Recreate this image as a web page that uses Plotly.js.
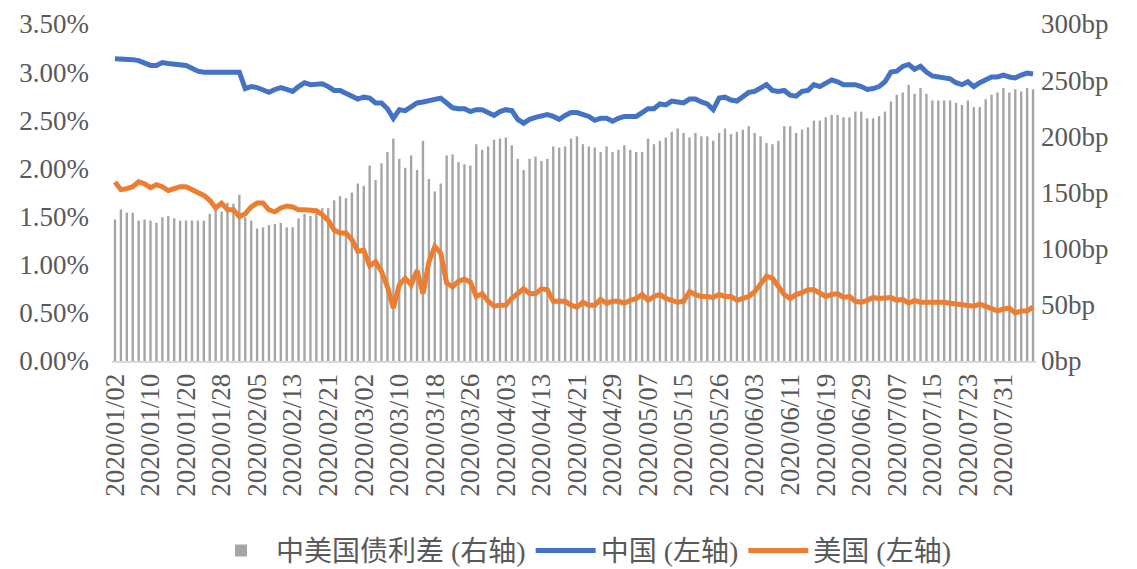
<!DOCTYPE html>
<html>
<head>
<meta charset="utf-8">
<script src="https://cdn.plot.ly/plotly-3.0.1.min.js"></script>
<style>html,body{margin:0;padding:0;background:#fff;}#chart{width:1137px;height:569px;}</style>
</head>
<body>
<div id="chart"></div>
<script>
const dates = [
"2020/01/02","2020/01/03","2020/01/06","2020/01/07","2020/01/08","2020/01/09","2020/01/10","2020/01/13","2020/01/14","2020/01/15","2020/01/16","2020/01/17","2020/01/20","2020/01/21","2020/01/22","2020/01/23","2020/01/24","2020/01/27","2020/01/28","2020/01/29","2020/01/30","2020/01/31",
"2020/02/03","2020/02/04","2020/02/05","2020/02/06","2020/02/07","2020/02/10","2020/02/11","2020/02/12","2020/02/13","2020/02/14","2020/02/17","2020/02/18","2020/02/19","2020/02/20","2020/02/21","2020/02/24","2020/02/25","2020/02/26","2020/02/27","2020/02/28",
"2020/03/02","2020/03/03","2020/03/04","2020/03/05","2020/03/06","2020/03/09","2020/03/10","2020/03/11","2020/03/12","2020/03/13","2020/03/16","2020/03/17","2020/03/18","2020/03/19","2020/03/20","2020/03/23","2020/03/24","2020/03/25","2020/03/26","2020/03/27","2020/03/30","2020/03/31",
"2020/04/01","2020/04/02","2020/04/03","2020/04/06","2020/04/07","2020/04/08","2020/04/09","2020/04/10","2020/04/13","2020/04/14","2020/04/15","2020/04/16","2020/04/17","2020/04/20","2020/04/21","2020/04/22","2020/04/23","2020/04/24","2020/04/27","2020/04/28","2020/04/29","2020/04/30",
"2020/05/01","2020/05/04","2020/05/05","2020/05/06","2020/05/07","2020/05/08","2020/05/11","2020/05/12","2020/05/13","2020/05/14","2020/05/15","2020/05/18","2020/05/19","2020/05/20","2020/05/21","2020/05/22","2020/05/26","2020/05/27","2020/05/28","2020/05/29",
"2020/06/01","2020/06/02","2020/06/03","2020/06/04","2020/06/05","2020/06/08","2020/06/09","2020/06/10","2020/06/11","2020/06/12","2020/06/15","2020/06/16","2020/06/17","2020/06/18","2020/06/19","2020/06/22","2020/06/23","2020/06/24","2020/06/25","2020/06/26","2020/06/29","2020/06/30",
"2020/07/01","2020/07/02","2020/07/03","2020/07/06","2020/07/07","2020/07/08","2020/07/09","2020/07/10","2020/07/13","2020/07/14","2020/07/15","2020/07/16","2020/07/17","2020/07/20","2020/07/21","2020/07/22","2020/07/23","2020/07/24","2020/07/27","2020/07/28","2020/07/29","2020/07/30","2020/07/31",
"2020/08/03","2020/08/04","2020/08/05","2020/08/06","2020/08/07"
];

// 中美国债利差 (bp, right axis)
const spreadBp = [
126,135,132,132,125,126,125,123,128,129,127,125,125,125,125,125,131,135,133,141,140,148,128,125,118,119,121,122,123,119,119,127,131,129,131,136,136,143,147,
145,150,158,156,174,161,176,186,198,180,172,183,170,196,162,151,158,183,184,177,175,174,193,188,191,197,198,199,192,180,170,180,182,178,180,191,190,191,198,
200,193,191,190,186,191,186,188,192,188,186,186,198,193,196,199,204,207,203,199,203,200,200,196,203,207,202,204,206,209,203,200,194,193,196,209,209,203,206,
208,214,214,217,219,219,217,217,222,222,216,216,218,222,231,237,239,246,238,243,238,232,232,232,232,230,228,232,226,226,233,237,239,243,239,242,240,243,242
];

// 中国 10Y (%, left axis)
const chinaYield = [
3.14,3.14,3.13,3.13,3.12,3.10,3.07,3.07,3.10,3.09,3.08,3.08,3.07,3.04,3.01,3.00,3.00,3.00,3.00,3.00,3.00,3.00,2.83,2.85,2.84,2.82,2.79,2.82,2.84,2.82,2.80,2.85,2.89,2.87,2.88,2.88,2.85,2.81,2.81,
2.78,2.75,2.72,2.74,2.73,2.68,2.68,2.62,2.52,2.61,2.60,2.64,2.68,2.69,2.70,2.71,2.73,2.68,2.63,2.62,2.62,2.59,2.61,2.61,2.58,2.55,2.59,2.61,2.60,2.51,2.47,2.51,2.53,2.54,2.56,2.54,2.51,2.55,2.58,
2.58,2.56,2.54,2.50,2.52,2.52,2.49,2.52,2.54,2.54,2.54,2.58,2.62,2.62,2.67,2.66,2.70,2.69,2.68,2.72,2.72,2.69,2.67,2.61,2.73,2.74,2.71,2.70,2.74,2.79,2.80,2.83,2.87,2.81,2.80,2.81,2.76,2.75,2.80,
2.81,2.87,2.85,2.89,2.92,2.90,2.87,2.87,2.87,2.85,2.82,2.83,2.85,2.90,3.00,3.01,3.06,3.08,3.03,3.06,3.00,2.96,2.95,2.95,2.93,2.89,2.87,2.90,2.85,2.89,2.92,2.95,2.95,2.97,2.95,2.94,2.97,2.99,2.98
];

// 美国 10Y (%, left axis)
const usYield = [
1.86,1.78,1.79,1.81,1.86,1.84,1.80,1.83,1.81,1.77,1.79,1.81,1.81,1.78,1.76,1.72,1.67,1.59,1.64,1.57,1.57,1.50,1.53,1.60,1.64,1.64,1.57,1.55,1.59,1.61,1.60,1.57,1.57,1.56,1.56,1.52,1.46,1.36,1.33,
1.33,1.26,1.14,1.15,0.99,1.03,0.93,0.77,0.55,0.79,0.86,0.79,0.94,0.70,1.03,1.19,1.12,0.81,0.77,0.83,0.85,0.82,0.67,0.70,0.62,0.57,0.58,0.58,0.65,0.70,0.75,0.70,0.70,0.75,0.74,0.62,0.62,0.62,0.58,
0.56,0.61,0.58,0.58,0.64,0.60,0.62,0.62,0.60,0.63,0.65,0.69,0.63,0.67,0.69,0.65,0.63,0.61,0.62,0.72,0.69,0.67,0.67,0.66,0.69,0.67,0.67,0.63,0.65,0.67,0.72,0.81,0.88,0.86,0.77,0.69,0.65,0.69,0.71,
0.74,0.74,0.70,0.67,0.69,0.70,0.66,0.67,0.62,0.61,0.63,0.66,0.65,0.65,0.66,0.63,0.64,0.60,0.63,0.61,0.61,0.62,0.61,0.61,0.60,0.59,0.59,0.58,0.57,0.59,0.57,0.55,0.52,0.54,0.55,0.50,0.52,0.52,0.56
];

const seriesNames = ["中美国债利差 (右轴)", "中国 (左轴)", "美国 (左轴)"];
const tickDates = dates.filter((d, i) => i % 6 === 0);

const serif = "Liberation Serif";
const legendFont = "Liberation Serif, Noto Sans CJK SC";
const grey = "#595959";

const traces = [
  {
    type: "bar", name: seriesNames[0], x: dates, y: spreadBp,
    yaxis: "y", marker: {color: "#a5a5a5"}
  },
  {
    type: "scatter", mode: "lines", name: seriesNames[1], x: dates, y: chinaYield,
    yaxis: "y2", line: {color: "#4472c4", width: 5}
  },
  {
    type: "scatter", mode: "lines", name: seriesNames[2], x: dates, y: usYield,
    yaxis: "y2", line: {color: "#ed7d31", width: 5}
  }
];

const layout = {
  width: 1137, height: 569,
  margin: {l: 112, r: 101, t: 24, b: 208},
  paper_bgcolor: "#ffffff", plot_bgcolor: "#ffffff",
  bargap: 0.6,
  showlegend: true,
  legend: {
    orientation: "h", xref: "container", yref: "container",
    x: 0.511, xanchor: "center", y: 0.032, yanchor: "middle",
    font: {family: legendFont, size: 28, color: grey},
    itemwidth: 60, traceorder: "normal"
  },
  xaxis: {
    type: "category", range: [-0.5, dates.length - 0.5],
    tickvals: tickDates, ticktext: tickDates, tickangle: -90,
    tickfont: {family: serif, size: 27, color: grey},
    showline: true, linecolor: "#d9d9d9", linewidth: 2,
    showgrid: false, zeroline: false, ticks: "", automargin: false
  },
  yaxis: {
    side: "right", range: [0, 300], dtick: 50, tick0: 0,
    ticksuffix: "bp", tickfont: {family: serif, size: 27, color: grey},
    showgrid: false, zeroline: false, showline: false, ticks: "", automargin: false,
    ticklabelstandoff: 4
  },
  yaxis2: {
    overlaying: "y", side: "left", range: [0, 3.5], dtick: 0.5, tick0: 0,
    tickformat: ".2f", ticksuffix: "%", tickfont: {family: serif, size: 27, color: grey},
    showgrid: false, zeroline: false, showline: false, ticks: "", automargin: false,
    ticklabelstandoff: 22
  }
};

Plotly.newPlot("chart", traces, layout, {displayModeBar: false, staticPlot: true});
</script>
</body>
</html>
